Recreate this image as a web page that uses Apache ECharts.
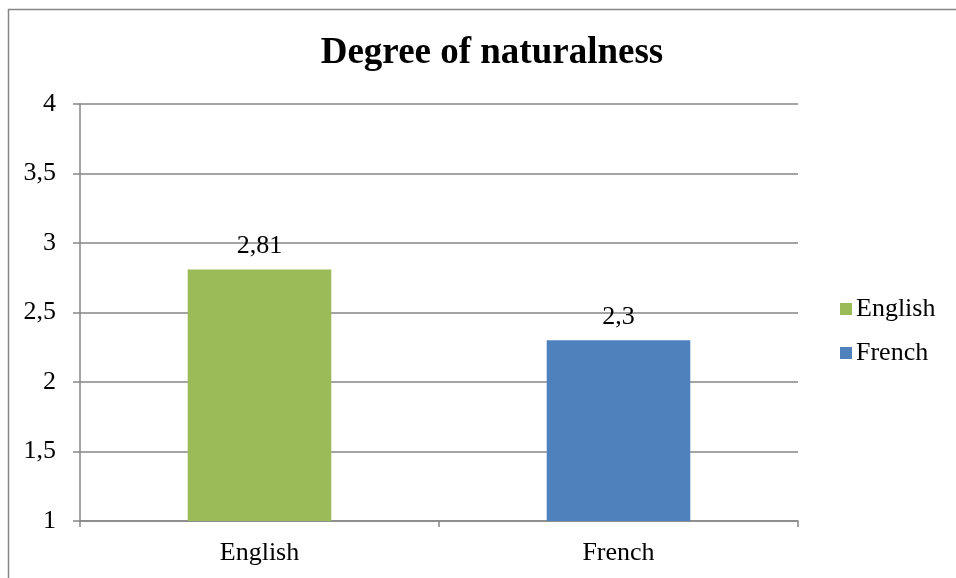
<!DOCTYPE html>
<html><head><meta charset="utf-8">
<script src="https://cdn.jsdelivr.net/npm/echarts@6/dist/echarts.min.js"></script>
<style>html,body{margin:0;padding:0;background:#fff}#c{width:956px;height:578px}</style>
</head><body><div id="c"></div>
<script>
const categories = ['English', 'French'];
const seriesNames = ['English', 'French'];
const values = [2.81, 2.3];
const colors = ['#9BBB59', '#4F81BD'];
const yMin = 1, yMax = 4, yInterval = 0.5;
const FONT = '"Liberation Serif", "Times New Roman", serif';
const chart = echarts.init(document.getElementById('c'));
const fmt = v => String(v).replace('.', ',');
chart.setOption({
  backgroundColor: '#fff',
  animation: false,
  graphic: [{type:'rect', left: 6, top: 7, shape:{width: 1000, height: 1000}, style:{fill:'none', stroke:'#868686', lineWidth:1.5}}],
  title: {text: 'Degree of naturalness', left: 487, textAlign: 'center', top: 30, textStyle:{fontFamily: FONT, fontSize: 37, fontWeight:'bold', color:'#000'}},
  legend: {orient:'vertical', left: 835, top: 291, itemWidth: 12, itemHeight: 12, itemGap: 18, icon:'rect',
    textStyle:{fontFamily: FONT, fontSize: 26, color:'#000', padding:[0,0,0,-1]}, data: seriesNames},
  grid: {left: 80, right: 158, top: 104, bottom: 57},
  xAxis: {type:'category', data: categories,
    axisLine:{lineStyle:{color:'#868686', width:1.5}},
    axisTick:{show:true, length:6, lineStyle:{color:'#868686', width:1.5}},
    axisLabel:{fontFamily: FONT, fontSize: 26, color:'#000', margin: 19}},
  yAxis: {type:'value', min: yMin, max: yMax, interval: yInterval,
    axisLine:{show:true, lineStyle:{color:'#868686', width:1.5}},
    axisTick:{show:true, length:7, lineStyle:{color:'#868686', width:1.5}},
    splitLine:{lineStyle:{color:'#868686', width:1.5}},
    axisLabel:{fontFamily: FONT, fontSize: 26, color:'#000', margin: 24, formatter: fmt}},
  series: seriesNames.map((name, i) => ({
    name, type:'bar', stack:'s', barWidth:'40%',
    itemStyle:{color: colors[i]},
    label:{show:true, position:'top', distance: 10, fontFamily: FONT, fontSize: 26, color:'#000', formatter: p => fmt(p.value)},
    data: categories.map((c, j) => j === i ? values[i] : null)
  }))
});
</script></body></html>
